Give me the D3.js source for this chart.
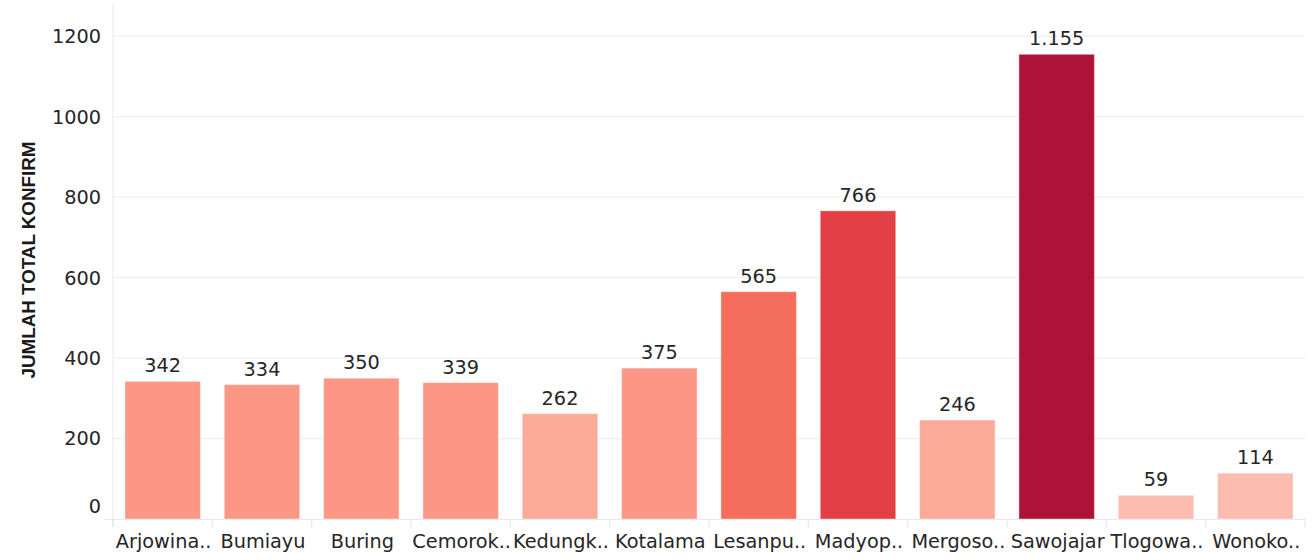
<!DOCTYPE html>
<html><head><meta charset="utf-8">
<script src="https://cdn.jsdelivr.net/npm/d3@7"></script>
<style>
html,body{margin:0;padding:0;background:#fff;}
svg{display:block;}
</style></head>
<body>
<svg id="chart" width="1316" height="560"></svg>
<script>
const categories = ["Arjowina..","Bumiayu","Buring","Cemorok..","Kedungk..","Kotalama","Lesanpu..","Madyop..","Mergoso..","Sawojajar","Tlogowa..","Wonoko.."];
const values = [342,334,350,339,262,375,565,766,246,1155,59,114];
const valueLabels = ["342","334","350","339","262","375","565","766","246","1.155","59","114"];
const yTicks = [0,200,400,600,800,1000,1200];
const yTitle = "JUMLAH TOTAL KONFIRM";

(function(){
const svg = d3.select("#chart");
const pLeft = 113, pRight = 1305, pTop = 4, pBottom = 519;
const FONT = "'DejaVu Sans', sans-serif";
const FS = 19.3;
const TXT = "#262626";

const x = d3.scaleBand().domain(categories).range([pLeft, pRight]).paddingInner(0.24).paddingOuter(0.12);
const y = d3.scaleLinear().domain([0, 1280]).range([pBottom, pTop]);
const color = d3.scaleThreshold().domain([200, 300, 500, 700, 1000])
  .range(["#fdbcb0", "#fcaa99", "#fb9784", "#f46d5d", "#e34046", "#ae1238"]);

// gridlines
svg.append("g").selectAll("line").data(yTicks.filter(d => d > 0)).join("line")
  .attr("x1", pLeft).attr("x2", pRight)
  .attr("y1", d => y(d)).attr("y2", d => y(d))
  .attr("stroke", "#efefef").attr("stroke-width", 1.2);

// axis lines
svg.append("line").attr("x1", pLeft).attr("x2", pLeft).attr("y1", pTop).attr("y2", pBottom + 8)
  .attr("stroke", "#ececec").attr("stroke-width", 1.2);
svg.append("line").attr("x1", pLeft - 8).attr("x2", pRight).attr("y1", pBottom + 0.5).attr("y2", pBottom + 0.5)
  .attr("stroke", "#e8e8e8").attr("stroke-width", 1.2);

// category separator ticks
const bounds = d3.range(categories.length + 1).map(i => pLeft + i * (pRight - pLeft) / categories.length);
svg.append("g").selectAll("line").data(bounds).join("line")
  .attr("x1", d => d).attr("x2", d => d)
  .attr("y1", pBottom).attr("y2", pBottom + 8)
  .attr("stroke", "#e6e6e6").attr("stroke-width", 1.2);

// y tick labels
svg.append("g").selectAll("text").data(yTicks).join("text")
  .attr("x", 101).attr("y", d => d === 0 ? y(d) - 13 : y(d))
  .attr("dy", "0.36em")
  .attr("text-anchor", "end")
  .attr("font-family", FONT).attr("font-size", FS).attr("fill", TXT)
  .text(d => d);

// y title
svg.append("text")
  .attr("transform", `translate(35,260) rotate(-90)`)
  .attr("text-anchor", "middle")
  .attr("font-family", "'Liberation Sans', Arial, sans-serif")
  .attr("font-weight", "bold").attr("font-size", 18.8).attr("fill", "#1a1a1a")
  .text(yTitle);

// bars
const data = categories.map((c, i) => ({c, v: values[i], l: valueLabels[i]}));
svg.append("g").selectAll("rect").data(data).join("rect")
  .attr("x", d => x(d.c)).attr("width", x.bandwidth())
  .attr("y", d => y(d.v)).attr("height", d => pBottom - y(d.v))
  .attr("fill", d => color(d.v))
  .attr("stroke", "rgba(255,255,255,0.4)").attr("stroke-width", 1);

// value labels
svg.append("g").selectAll("text").data(data).join("text")
  .attr("x", d => x(d.c) + x.bandwidth() / 2).attr("y", d => y(d.v) - 9)
  .attr("text-anchor", "middle")
  .attr("font-family", FONT).attr("font-size", FS).attr("fill", TXT)
  .text(d => d.l);

// category labels
svg.append("g").selectAll("text").data(categories).join("text")
  .attr("x", d => x(d) + x.bandwidth() / 2 + 1).attr("y", 548)
  .attr("text-anchor", "middle")
  .attr("font-family", FONT).attr("font-size", FS).attr("fill", TXT)
  .text(d => d);
})();
</script>
</body></html>
